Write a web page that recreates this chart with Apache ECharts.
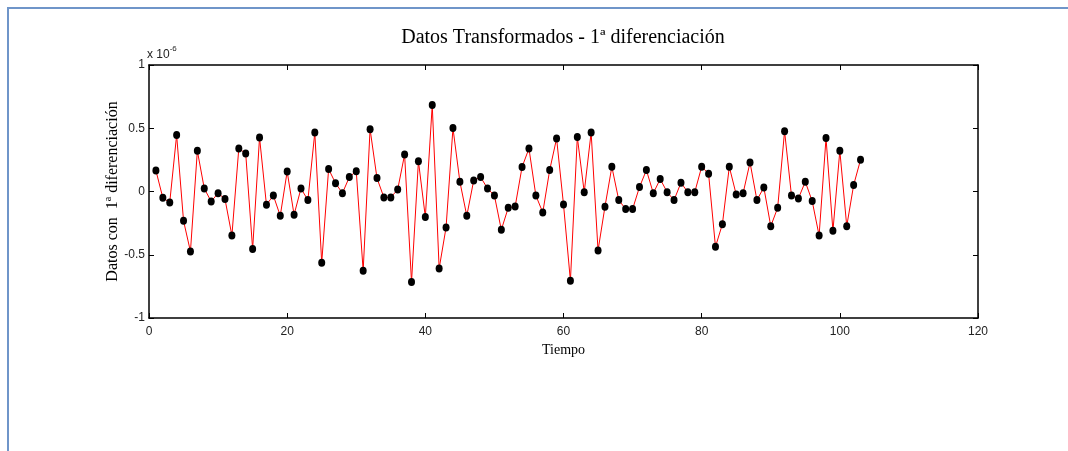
<!DOCTYPE html>
<html>
<head>
<meta charset="utf-8">
<title>Datos Transformados - 1ª diferenciación</title>
<script src="https://cdn.jsdelivr.net/npm/echarts@6/dist/echarts.min.js"></script>
<style>
  html, body { margin: 0; padding: 0; background: #ffffff; }
  #wrap { position: relative; width: 1068px; height: 451px; overflow: hidden; }
  #frame { position: absolute; left: 7px; top: 7px; width: 1070px; height: 460px;
           border-top: 2px solid #6f95c9; border-left: 2px solid #6f95c9; box-sizing: border-box; }
  #chart { position: absolute; left: 0; top: 0; width: 1068px; height: 451px; }
</style>
</head>
<body>
<div id="wrap">
  <div id="frame"></div>
  <div id="chart"></div>
</div>
<script>
// Serie diferenciada (valores en unidades de 1e-6), t = 1..103
const tiempo = Array.from({ length: 103 }, (_, i) => i + 1);
const valores = [
  0.166, -0.050, -0.087, 0.446, -0.232, -0.474, 0.322, 0.024, -0.079, -0.013,
  -0.060, -0.348, 0.340, 0.300, -0.455, 0.427, -0.105, -0.032, -0.192, 0.158,
  -0.184, 0.024, -0.068, 0.466, -0.564, 0.177, 0.066, -0.013, 0.114, 0.161,
  -0.627, 0.493, 0.106, -0.047, -0.047, 0.016, 0.292, -0.716, 0.240, -0.202,
  0.683, -0.609, -0.285, 0.501, 0.077, -0.192, 0.087, 0.114, 0.024, -0.032,
  -0.303, -0.129, -0.119, 0.193, 0.340, -0.032, -0.166, 0.169, 0.419, -0.103,
  -0.706, 0.430, -0.005, 0.466, -0.466, -0.121, 0.195, -0.068, -0.139, -0.139,
  0.035, 0.169, -0.013, 0.098, -0.005, -0.068, 0.069, -0.005, -0.005, 0.195,
  0.141, -0.437, -0.258, 0.195, -0.024, -0.013, 0.229, -0.068, 0.032, -0.274,
  -0.129, 0.477, -0.032, -0.055, 0.077, -0.076, -0.348, 0.422, -0.311, 0.322,
  -0.274, 0.051, 0.251
];
const xTicks = [0, 20, 40, 60, 80, 100, 120];
const yTicks = [-1, -0.5, 0, 0.5, 1];

const puntos = tiempo.map((t, i) => [t, valores[i]]);

const sans = '"Liberation Sans", Arial, sans-serif';
const tickFont = { fontFamily: sans, fontSize: 12, color: '#222' };
const serif = '"Liberation Serif", "DejaVu Serif", "Times New Roman", serif';

const chart = echarts.init(document.getElementById('chart'), null, { renderer: 'canvas' });

const baseAxisLine = { show: true, onZero: false, lineStyle: { color: '#000', width: 1.5 } };
const baseTick = { show: true, inside: true, length: 5, lineStyle: { color: '#000', width: 1 } };

chart.setOption({
  animation: false,
  backgroundColor: 'transparent',
  title: {
    text: 'Datos Transformados - 1ª diferenciación',
    left: 558, top: 23, textAlign: 'center',
    textStyle: { fontFamily: serif, fontSize: 20, fontWeight: 'normal', color: '#000' }
  },
  grid: { left: 149, right: 90, top: 65, bottom: 133, containLabel: false },
  xAxis: [
    {
      type: 'value', position: 'bottom', min: xTicks[0], max: xTicks[xTicks.length - 1], interval: 20,
      name: 'Tiempo', nameLocation: 'middle', nameGap: 25,
      nameTextStyle: { fontFamily: serif, fontSize: 14, color: '#000' },
      axisLine: baseAxisLine, axisTick: baseTick,
      axisLabel: Object.assign({ margin: 8 }, tickFont),
      splitLine: { show: false }
    },
    {
      type: 'value', position: 'top', min: xTicks[0], max: xTicks[xTicks.length - 1], interval: 20,
      axisLine: baseAxisLine, axisTick: baseTick,
      axisLabel: { show: false }, splitLine: { show: false }
    }
  ],
  yAxis: [
    {
      type: 'value', position: 'left', min: yTicks[0], max: yTicks[yTicks.length - 1], interval: 0.5,
      name: 'Datos con  1ª diferenciación', nameLocation: 'middle', nameGap: 28, nameRotate: 90,
      nameMoveOverlap: false,
      nameTextStyle: { fontFamily: serif, fontSize: 16, color: '#000', letterSpacing: 2 },
      axisLine: baseAxisLine, axisTick: baseTick,
      axisLabel: Object.assign({ margin: 4 }, tickFont),
      splitLine: { show: false }
    },
    {
      type: 'value', position: 'right', min: yTicks[0], max: yTicks[yTicks.length - 1], interval: 0.5,
      axisLine: baseAxisLine, axisTick: baseTick,
      axisLabel: { show: false }, splitLine: { show: false }
    }
  ],
  graphic: [
    {
      type: 'text', left: 147, top: 45,
      style: {
        text: '{b|x 10}{s|-6}',
        rich: {
          b: { fontFamily: sans, fontSize: 12, fill: '#222', verticalAlign: 'bottom' },
          s: { fontFamily: sans, fontSize: 8, fill: '#222', verticalAlign: 'top', padding: [0, 0, 8, 0] }
        }
      }
    }
  ],
  series: [
    {
      type: 'line',
      xAxisIndex: 0, yAxisIndex: 0,
      data: puntos,
      symbol: 'circle', symbolSize: [7, 8],
      itemStyle: { color: '#000' },
      lineStyle: { color: '#ff0000', width: 1 },
      z: 3
    }
  ]
});
</script>
</body>
</html>
